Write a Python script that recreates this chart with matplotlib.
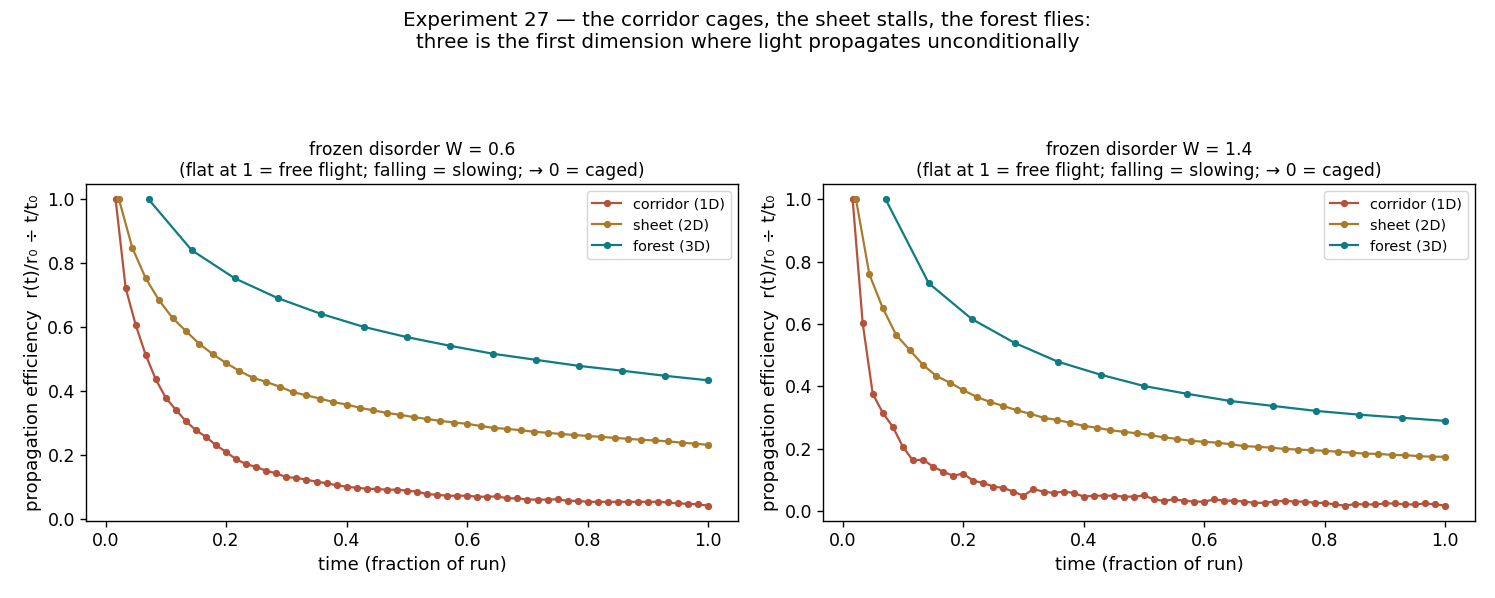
import matplotlib
matplotlib.use("Agg")
import matplotlib.pyplot as plt
import numpy as np

# time grids (fraction of run)
t_corridor = np.arange(1, 61) / 60
t_sheet = np.arange(1, 46) / 45
t_forest = np.arange(1, 15) / 14

# W = 0.6
corridor_w06 = [1.0, 0.723, 0.607, 0.513, 0.437, 0.379, 0.342, 0.306, 0.278, 0.257,
                0.231, 0.210, 0.187, 0.172, 0.163, 0.151, 0.143, 0.131, 0.129, 0.123,
                0.117, 0.112, 0.106, 0.101, 0.098, 0.095, 0.094, 0.092, 0.092, 0.089,
                0.086, 0.078, 0.076, 0.073, 0.073, 0.073, 0.070, 0.070, 0.071, 0.065,
                0.065, 0.061, 0.061, 0.061, 0.062, 0.057, 0.057, 0.054, 0.054, 0.054,
                0.054, 0.054, 0.054, 0.054, 0.054, 0.052, 0.049, 0.048, 0.046, 0.042]
sheet_w06 = [1.0, 0.848, 0.753, 0.684, 0.629, 0.588, 0.548, 0.516, 0.488, 0.463,
             0.442, 0.429, 0.414, 0.397, 0.387, 0.377, 0.366, 0.358, 0.348, 0.340,
             0.332, 0.326, 0.319, 0.313, 0.307, 0.302, 0.298, 0.291, 0.285, 0.282,
             0.278, 0.273, 0.270, 0.266, 0.263, 0.260, 0.257, 0.254, 0.251, 0.248,
             0.246, 0.243, 0.239, 0.236, 0.232]
forest_w06 = [1.0, 0.841, 0.753, 0.691, 0.642, 0.601, 0.569, 0.542, 0.517, 0.498,
              0.479, 0.464, 0.448, 0.434]

# W = 1.4
corridor_w14 = [1.0, 0.603, 0.376, 0.315, 0.270, 0.206, 0.162, 0.165, 0.142, 0.126,
                0.113, 0.120, 0.097, 0.090, 0.078, 0.074, 0.062, 0.049, 0.070, 0.062,
                0.058, 0.062, 0.058, 0.046, 0.049, 0.049, 0.049, 0.046, 0.046, 0.050,
                0.037, 0.033, 0.037, 0.033, 0.030, 0.030, 0.037, 0.033, 0.033, 0.030,
                0.026, 0.026, 0.030, 0.033, 0.030, 0.030, 0.026, 0.026, 0.021, 0.017,
                0.022, 0.021, 0.021, 0.024, 0.024, 0.021, 0.021, 0.024, 0.021, 0.017]
sheet_w14 = [1.0, 0.759, 0.651, 0.565, 0.517, 0.469, 0.433, 0.412, 0.388, 0.366,
             0.350, 0.337, 0.323, 0.312, 0.299, 0.292, 0.283, 0.273, 0.267, 0.259,
             0.254, 0.249, 0.243, 0.236, 0.231, 0.225, 0.222, 0.219, 0.214, 0.208,
             0.206, 0.203, 0.199, 0.197, 0.195, 0.193, 0.190, 0.187, 0.184, 0.183,
             0.180, 0.179, 0.176, 0.174, 0.174]
forest_w14 = [1.0, 0.731, 0.616, 0.539, 0.479, 0.437, 0.401, 0.376, 0.353, 0.337,
              0.321, 0.309, 0.299, 0.289]

disorders = ["0.6", "1.4"]
colors = {"corridor": "#b5523b", "sheet": "#a97c2c", "forest": "#0f7b83"}

fig = plt.figure(figsize=(14.95, 5.98), dpi=100)
fig.suptitle("Experiment 27 \u2014 the corridor cages, the sheet stalls, the forest flies:\n"
             "three is the first dimension where light propagates unconditionally",
             fontsize=14.3, y=0.982)

ax1 = fig.add_axes([0.0575, 0.1288, 0.4361, 0.5635])
ax2 = fig.add_axes([0.5505, 0.1288, 0.4361, 0.5635])

panels = [
    (ax1, corridor_w06, sheet_w06, forest_w06, disorders[0]),
    (ax2, corridor_w14, sheet_w14, forest_w14, disorders[1]),
]

for ax, cor, sh, fo, w in panels:
    ax.plot(t_corridor, cor, "-o", color=colors["corridor"], lw=1.6, ms=4.2, label="corridor (1D)")
    ax.plot(t_sheet, sh, "-o", color=colors["sheet"], lw=1.6, ms=4.2, label="sheet (2D)")
    ax.plot(t_forest, fo, "-o", color=colors["forest"], lw=1.6, ms=4.2, label="forest (3D)")
    ax.set_title(f"frozen disorder W = {w}\n"
                 "(flat at 1 = free flight; falling = slowing; \u2192 0 = caged)", fontsize=12.4)
    ax.set_xlabel("time (fraction of run)", fontsize=13)
    ax.set_ylabel("propagation efficiency  r(t)/r\u2080 \u00f7 t/t\u2080", fontsize=13)
    ax.tick_params(labelsize=12.5, length=4.4, width=1)
    for s in ax.spines.values():
        s.set_linewidth(1)
    ax.legend(loc="upper right", fontsize=10.4)

plt.savefig("out.png", dpi=100)
plt.close()
